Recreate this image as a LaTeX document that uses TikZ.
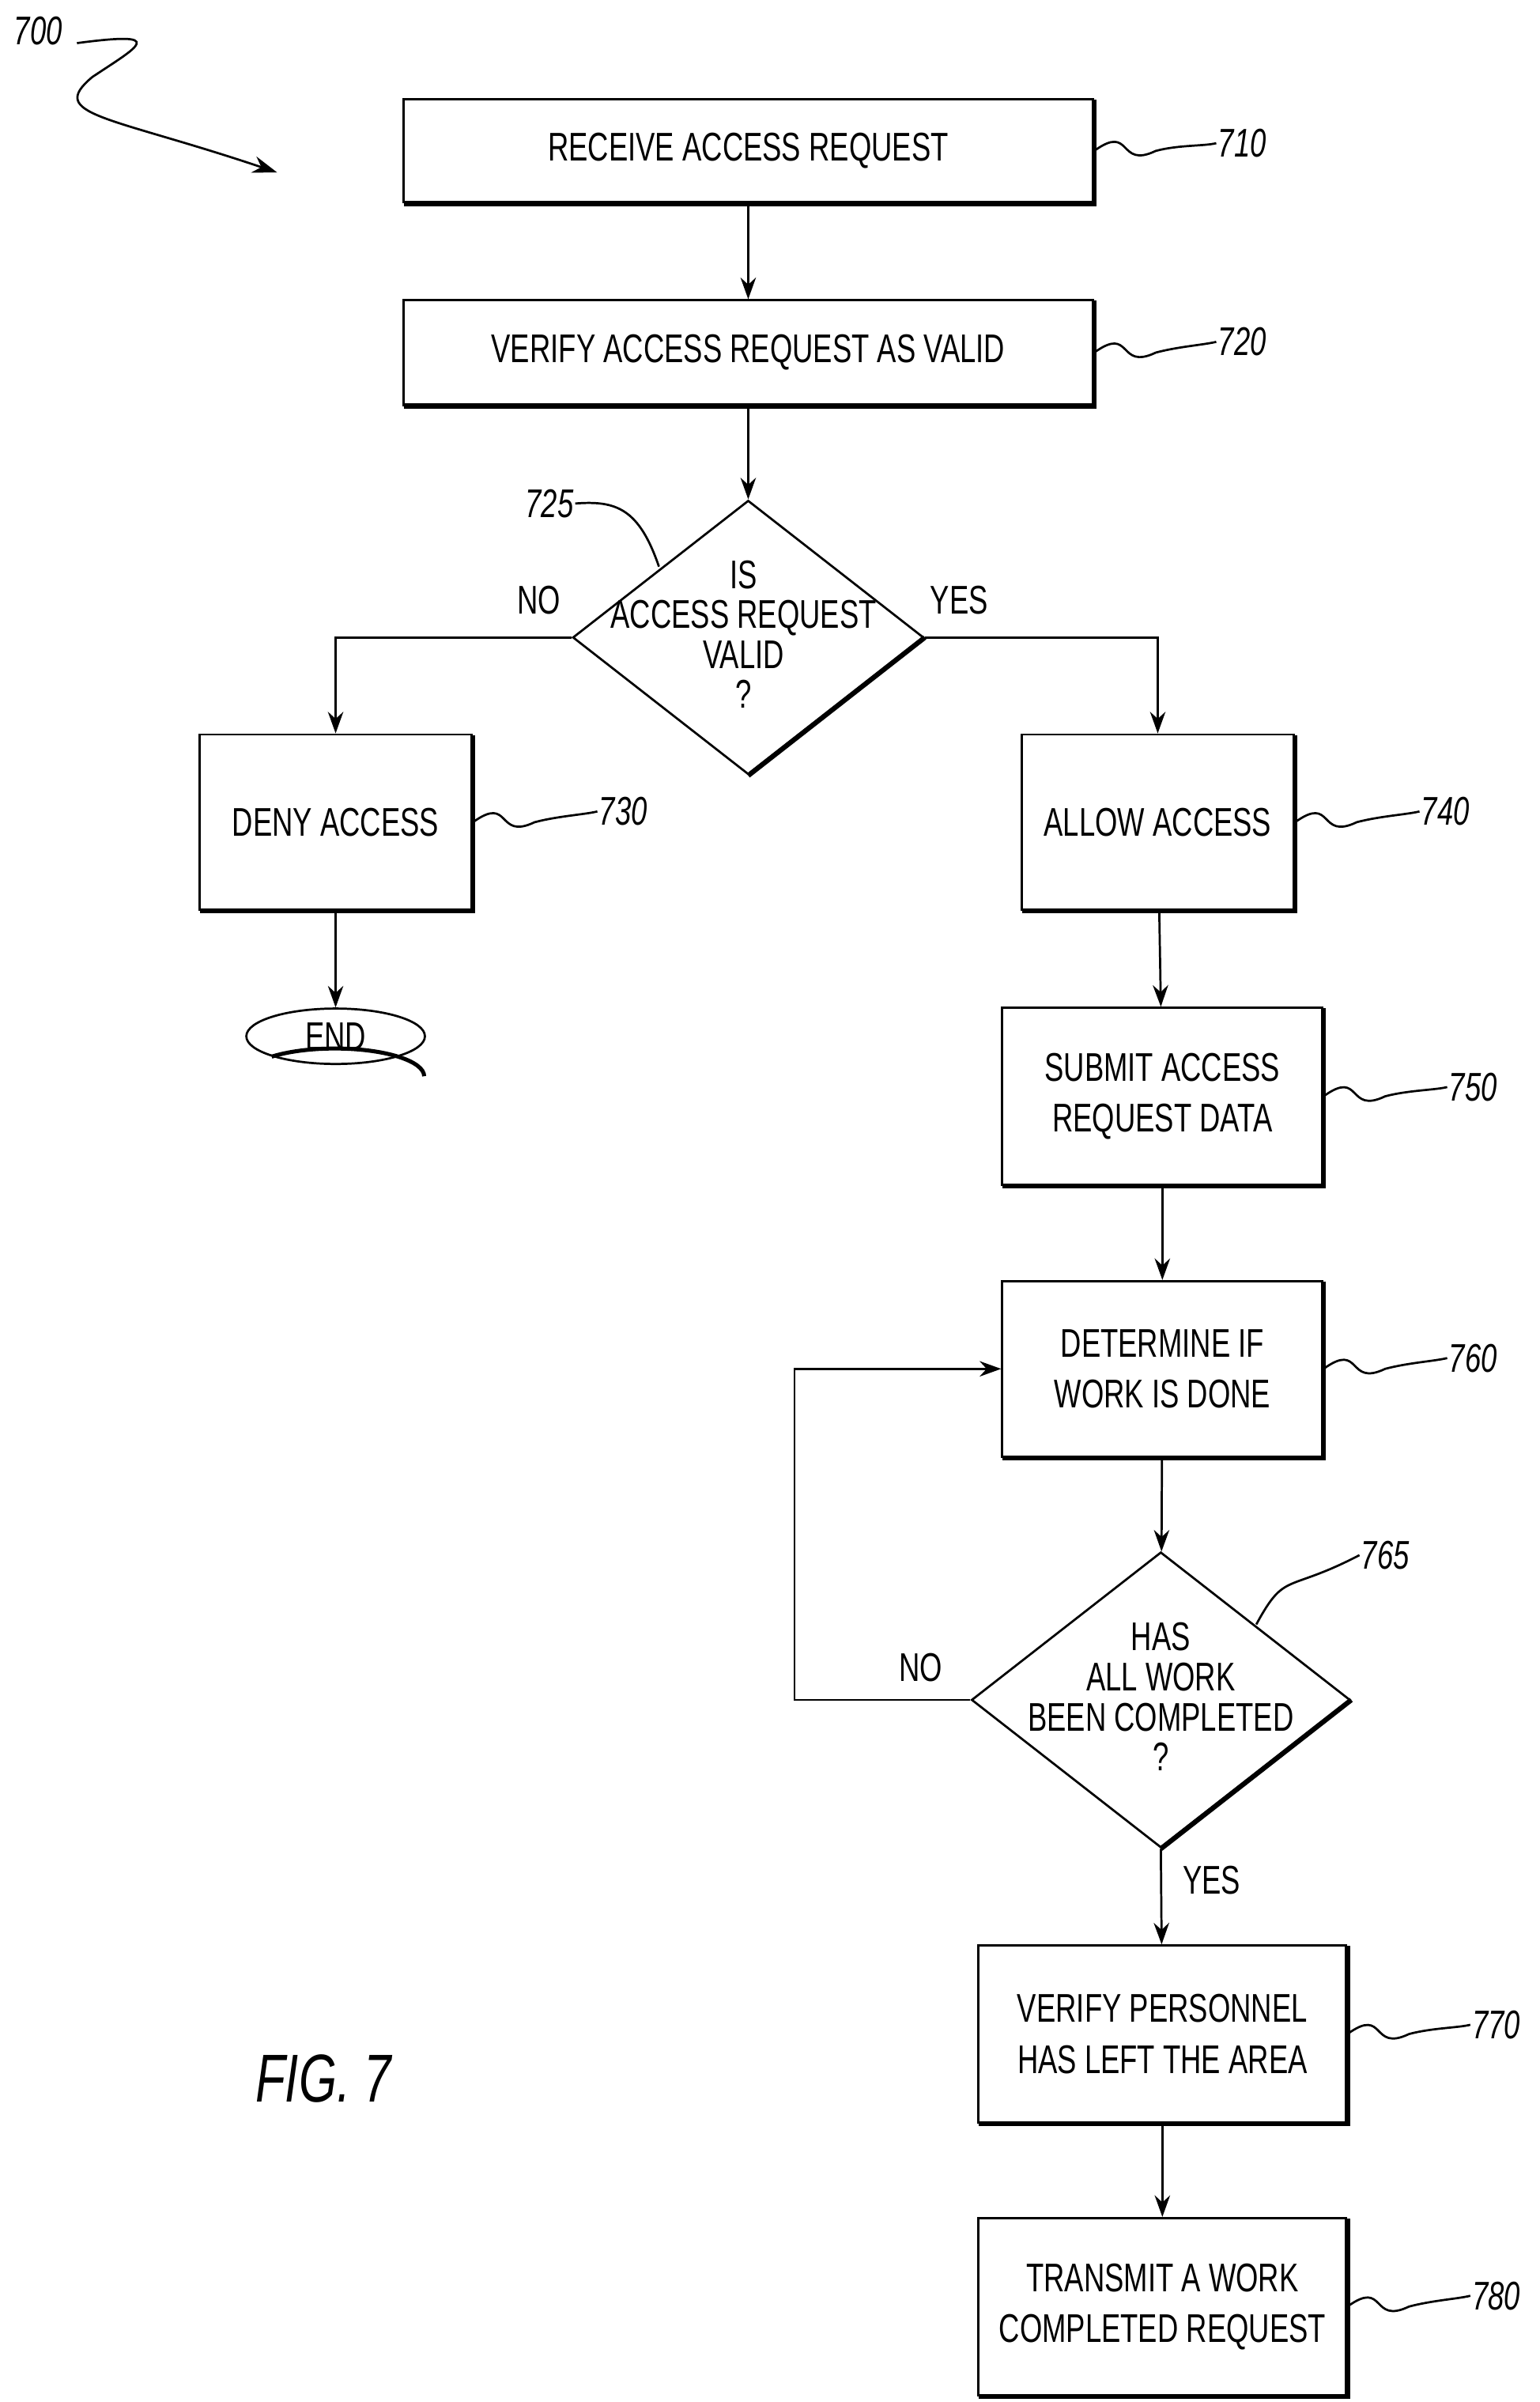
\documentclass[tikz,border=0pt]{standalone}
\usepackage{fontspec}
\setmainfont{Liberation Sans}[FakeStretch=0.72]
\usetikzlibrary{shapes.geometric,arrows.meta}
\begin{document}
\begin{tikzpicture}[x=1pt,y=-1pt,
  box/.style={draw,line width=1.4pt,inner sep=0pt,align=center,font=\fontsize{26}{33}\selectfont},
  dia/.style={draw,line width=1.4pt,diamond,inner sep=0pt,align=center,font=\fontsize{26}{33}\selectfont},
  lbl/.style={font=\fontsize{26}{30}\selectfont\itshape,anchor=west,inner sep=1pt},
  arr/.style={line width=1.4pt,-{Stealth[length=14pt,width=10pt]}},
  ld/.style={line width=1.4pt},
  txt/.style={font=\fontsize{26}{30}\selectfont}]
\useasboundingbox (0,0) rectangle (1000,1560);
\node[box,minimum width=448,minimum height=67] (b710) at (486,98) {RECEIVE ACCESS REQUEST};
\node[box,minimum width=448,minimum height=68] (b720) at (486,229) {VERIFY ACCESS REQUEST AS VALID};
\node[dia,minimum width=228,minimum height=178] (d725) at (486,414) {};
\node[txt,align=center] (t725) at (483,412) {IS\\[-4pt]ACCESS REQUEST\\[-4pt]VALID\\[-4pt]?};
\node[box,minimum width=177,minimum height=114] (b730) at (218,534) {DENY ACCESS};
\node[box,minimum width=177,minimum height=114] (b740) at (752,534) {ALLOW ACCESS};
\node[draw,ellipse,line width=1.4pt,minimum width=116,minimum height=36,inner sep=0pt,txt] (end) at (218,673) {END};
\node[box,minimum width=208,minimum height=115] (b750) at (755,712) {SUBMIT ACCESS\\REQUEST DATA};
\node[box,minimum width=208,minimum height=114] (b760) at (755,889) {DETERMINE IF\\WORK IS DONE};
\node[dia,minimum width=246,minimum height=192] (d765) at (754,1104) {};
\node[txt,align=center] (t765) at (754,1102) {HAS\\[-4pt]ALL WORK\\[-4pt]BEEN COMPLETED\\[-4pt]?};
\node[box,minimum width=239,minimum height=115] (b770) at (755,1321) {VERIFY PERSONNEL\\HAS LEFT THE AREA};
\node[box,minimum width=239,minimum height=115] (b780) at (755,1498) {TRANSMIT A WORK\\COMPLETED REQUEST};
\foreach \n in {b710,b720,b730,b740,b750,b760,b770,b780}
  \draw[line width=3.2pt] ([xshift=1pt]\n.south west)--(\n.south east)--([yshift=-1pt]\n.north east);
\draw[line width=3.2pt] (d725.south)--(d725.east);
\draw[line width=3.2pt] (d765.south)--(d765.east);
\draw[line width=2.6pt] (end.south west) arc[start angle=225,end angle=360,x radius=58,y radius=18];
% connectors
\draw[arr] (b710)--(b720);
\draw[arr] (b720)--(d725);
\draw[arr] (d725.west) -| (b730.north);
\draw[arr] (d725.east) -| (b740.north);
\draw[arr] (b730)--(end);
\draw[arr] (b740)--(b750);
\draw[arr] (b750)--(b760);
\draw[arr] (b760)--(d765);
\coordinate (lp) at (516,1104);
\draw[arr] (d765.west) -- (lp) |- (b760.west);
\draw[arr] (d765.south)--(b770);
\draw[arr] (b770)--(b780);
\node[txt] (n1) at (350,390) {NO};
\node[txt] (y1) at (623,390) {YES};
\node[txt] (n2) at (598,1083) {NO};
\node[txt] (y2) at (787,1221) {YES};
% labels
\node[lbl] (l710) at (790,93) {710};
\node[lbl] (l720) at (790,222) {720};
\node[lbl] (l730) at (388,527) {730};
\node[lbl] (l740) at (922,527) {740};
\node[lbl] (l750) at (940,706) {750};
\node[lbl] (l760) at (940,882) {760};
\node[lbl] (l770) at (955,1315) {770};
\node[lbl] (l780) at (955,1491) {780};
\node[lbl] (l765) at (883,1010) {765};
\node[lbl] (l725) at (340,327) {725};
\node[lbl] (l700) at (8,20) {700};
\foreach \b/\l in {b710/l710,b720/l720,b730/l730,b740/l740,b750/l750,b760/l760,b770/l770,b780/l780}
  \draw[ld] (\b.east) .. controls +(25,-18) and +(-25,12) .. +(40,0) .. controls +(15,-4) and +(-8,2) .. (\l.west);
\draw[ld] (816,1055) .. controls (835,1020) and (835,1035) .. (l765.west);
\draw[ld] (428,368) .. controls (415,330) and (400,325) .. (l725.east);
\coordinate (a700) at (180,112);
\draw[ld,-{Stealth[length=16pt,width=11pt]}] (50,28) .. controls (110,20) and (90,30) .. (60,50) .. controls (30,75) and (70,75) .. (a700);
\node[font=\fontsize{44}{50}\selectfont\itshape] (fig) at (210,1350) {FIG. 7};
\end{tikzpicture}
\end{document}
